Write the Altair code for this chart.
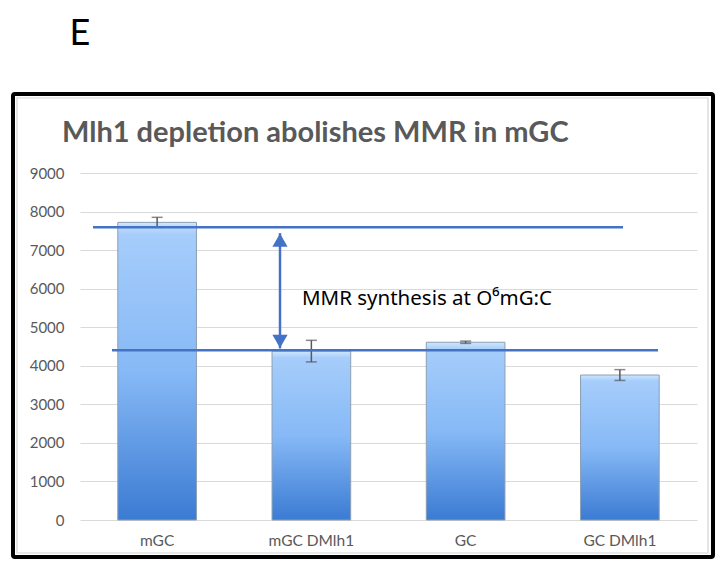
import altair as alt
import pandas as pd

categories = ["mGC", "mGC DMlh1", "GC", "GC DMlh1"]
values = [7720, 4380, 4610, 3760]
errors = [130, 280, 30, 140]

upper_level = 7590
lower_level = 4400
arrow_top = 7440
arrow_bottom = 4450
annot_y = 5720
y_ticks = [0, 1000, 2000, 3000, 4000, 5000, 6000, 7000, 8000, 9000]

df = pd.DataFrame({
    "cat": categories,
    "val": values,
    "lo": [v - e for v, e in zip(values, errors)],
    "hi": [v + e for v, e in zip(values, errors)],
})

W, H = 617, 347
FONT = "Lato"
GRAY = "#595959"
LINE = "#4472C4"

xaxis = alt.Axis(labelAngle=0, domain=False, ticks=False, labelPadding=13,
                 labelFontSize=15.5, labelColor=GRAY, labelFont=FONT)
xenc = alt.X("cat:N", sort=categories, title=None,
             scale=alt.Scale(paddingInner=0.49, paddingOuter=0.245), axis=xaxis)
yscale = alt.Scale(domain=[0, 9000], nice=False)
yaxis = alt.Axis(values=y_ticks, format="d", labelOverlap=False, domain=False,
                 ticks=False, labelPadding=16, labelFontSize=15,
                 labelColor=GRAY, labelFont=FONT, gridColor="#d9d9d9", gridWidth=1.2)
xplain = alt.X("cat:N", sort=categories, title=None, axis=xaxis)


def yq(field):
    return alt.Y(field, scale=yscale, axis=yaxis, title=None)


grad = alt.Gradient(
    gradient="linear",
    stops=[alt.GradientStop(color="#cfe6fe", offset=0),
           alt.GradientStop(color="#a6cdfb", offset=0.04),
           alt.GradientStop(color="#86b9f6", offset=0.5),
           alt.GradientStop(color="#3b7bd3", offset=1)],
    x1=0, x2=0, y1=0, y2=1,
)

base = alt.Chart(df)
bars = base.mark_bar(color=grad, stroke="#8d9fb3", strokeWidth=1).encode(x=xenc, y=yq("val:Q"))
err = base.mark_rule(color=GRAY, strokeWidth=1.5).encode(x=xplain, y=yq("lo:Q"), y2="hi:Q")
cap_lo = base.mark_tick(color=GRAY, size=11, thickness=1.5).encode(x=xplain, y=yq("lo:Q"))
cap_hi = base.mark_tick(color=GRAY, size=11, thickness=1.5).encode(x=xplain, y=yq("hi:Q"))

upper = alt.Chart(pd.DataFrame({"y": [upper_level]})).mark_rule(
    color=LINE, strokeWidth=2.5).encode(x=alt.value(13), x2=alt.value(543), y=yq("y:Q"))
lower = alt.Chart(pd.DataFrame({"y": [lower_level]})).mark_rule(
    color=LINE, strokeWidth=2.5).encode(x=alt.value(32), x2=alt.value(578), y=yq("y:Q"))
arrow_df = pd.DataFrame({"top": [arrow_top], "bottom": [arrow_bottom]})
shaft = alt.Chart(arrow_df).mark_rule(color=LINE, strokeWidth=2.5).encode(
    x=alt.value(200), y=yq("top:Q"), y2="bottom:Q")
head_up = alt.Chart(arrow_df).mark_point(shape="triangle-up", filled=True, color=LINE,
                                         opacity=1, size=230, yOffset=7).encode(
    x=alt.value(200), y=yq("top:Q"))
head_down = alt.Chart(arrow_df).mark_point(shape="triangle-down", filled=True, color=LINE,
                                           opacity=1, size=230, yOffset=-7).encode(
    x=alt.value(200), y=yq("bottom:Q"))
annot = alt.Chart(pd.DataFrame({"y": [annot_y]})).mark_text(
    text="MMR synthesis at O⁶mG:C", align="left", baseline="middle",
    font="Noto Sans", fontSize=20.5, color="#000000").encode(
    x=alt.value(222), y=yq("y:Q"))

ref = alt.Chart(pd.DataFrame({"k": [0]}))
title = ref.mark_text(text="Mlh1 depletion abolishes MMR in mGC", align="left",
                      baseline="middle", font=FONT, fontSize=29, fontWeight="bold",
                      color=GRAY).encode(x=alt.value(-18), y=alt.value(-40))
letter = ref.mark_text(text="E", align="center", baseline="middle", font=FONT,
                       fontSize=36, color="#000000").encode(x=alt.value(0), y=alt.value(-139))
inner = ref.mark_rect(filled=False, stroke="#d4d4d4", strokeWidth=1.2).encode(
    x=alt.value(-63), x2=alt.value(628), y=alt.value(-75), y2=alt.value(380))
frame = ref.mark_rect(filled=False, stroke="#000000", strokeWidth=4, cornerRadius=2).encode(
    x=alt.value(-67), x2=alt.value(633), y=alt.value(-79), y2=alt.value(384))

chart = alt.layer(bars, err, cap_lo, cap_hi, upper, lower, shaft, head_up, head_down,
                  annot, title, letter, inner, frame).properties(
    width=W, height=H,
    background="#ffffff",
    autosize=alt.AutoSizeParams(type="none"),
    padding={"left": 72, "top": 165, "right": 20, "bottom": 39},
).configure_view(stroke=None)

chart.save("out.html", embed_options={"renderer": "svg", "actions": False})
